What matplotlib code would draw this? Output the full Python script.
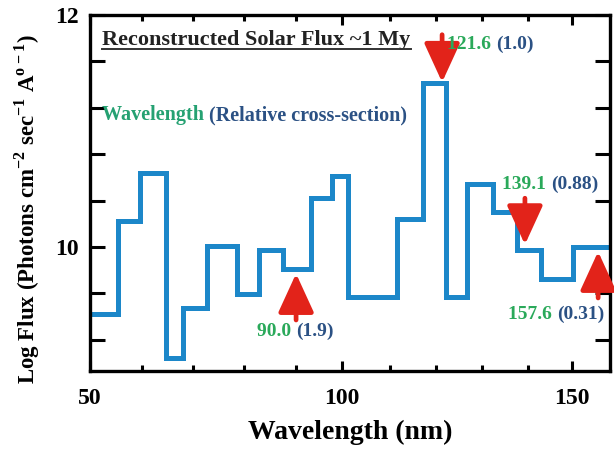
import matplotlib
matplotlib.use("Agg")
import numpy as np
import matplotlib.pyplot as plt
from matplotlib.lines import Line2D

plt.rcParams["font.family"] = ["Liberation Serif", "DejaVu Serif"]
plt.rcParams["font.weight"] = "bold"
plt.rcParams["mathtext.fontset"] = "custom"
plt.rcParams["mathtext.bf"] = "Liberation Serif:bold"
plt.rcParams["mathtext.rm"] = "Liberation Serif:bold"

# step edges (nm) and log flux level of each bin
edges = [50.0, 55.4, 59.6, 64.7, 68.0, 72.7, 78.6, 82.9, 87.5, 93.3, 97.8,
         101.2, 111.5, 117.2, 122.1, 126.8, 132.4, 137.6, 143.0, 150.2, 158.6]
levels = [9.42, 10.22, 10.64, 9.04, 9.47, 10.01, 9.59, 9.97, 9.81, 10.42,
          10.61, 9.57, 10.24, 11.41, 9.57, 10.54, 10.30, 9.97, 9.72, 10.00]

# marked lines: wavelength, relative cross-section
marks_wl = ["121.6", "139.1", "90.0", "157.6"]
marks_cs = ["(1.0)", "(0.88)", "(1.9)", "(0.31)"]
arrow_x = [121.3, 139.3, 90.0, 155.9]
arrow_tail = [11.83, 10.42, 9.37, 9.56]
arrow_tip = [11.42, 10.02, 9.77, 9.96]
label_x = [122.4, 134.3, 82.5, 135.7]
label_y = [11.71, 10.50, 9.23, 9.38]

x_major = [50, 100, 150]
x_minor = [60, 70, 80, 90, 110, 120, 130, 140]
y_major = [10, 12]
y_minor = [9.2, 9.6, 10.4, 10.8, 11.2, 11.6]

# the printed x axis is not evenly spaced: tick value -> relative position
axis_nm = [-1000, 50, 60, 70, 80, 90, 100, 110, 120, 130, 140, 150, 1000]
axis_pos = [-5200, 0, 52, 103, 154, 206, 252, 300, 346, 392, 438, 482, 4222]

def fwd(x):
    return np.interp(x, axis_nm, axis_pos)

def inv(p):
    return np.interp(p, axis_pos, axis_nm)

BLUE = "#1c87c9"
RED = "#e2231a"
GREEN = "#2aa95a"
TEAL = "#25a172"
NAVY = "#2b5184"

fig = plt.figure(figsize=(6.14, 4.49), dpi=100)
ax = fig.add_axes([0.1466, 0.1737, 0.8469, 0.7929])
ax.set_xscale("function", functions=(fwd, inv))

# step outline
xs = []
ys = []
for i, lv in enumerate(levels):
    xs += [edges[i], edges[i + 1]]
    ys += [lv, lv]
ax.plot(xs, ys, color=BLUE, lw=3.6, solid_joinstyle="miter")

ax.set_xlim(50, 158.6)
ax.set_ylim(8.93, 12)

ax.set_xticks(x_major, [str(v) for v in x_major])
ax.set_xticks(x_minor, [], minor=True)
ax.set_yticks(y_major, [str(v) for v in y_major])
ax.set_yticks(y_minor, [], minor=True)
ax.tick_params(axis="both", which="both", direction="in", width=2.2,
               top=True, right=True, labelsize=17)
ax.tick_params(axis="x", which="major", length=7.5, pad=12)
ax.tick_params(axis="x", which="minor", length=4)
ax.tick_params(axis="y", which="both", length=11, pad=8)
for s in ax.spines.values():
    s.set_linewidth(2.4)

ax.set_xlabel("Wavelength (nm)", fontsize=20, fontweight="bold", labelpad=8)
ax.set_ylabel("Log Flux (Photons cm$^{\\mathbf{-2}}$ sec$^{\\mathbf{-1}}$ A$^{\\mathbf{o-1}}$)",
              fontsize=16.5, fontweight="bold")
ax.yaxis.set_label_coords(-0.092, 0.455)

title = ax.text(0.024, 0.916, "Reconstructed Solar Flux ~1 My", transform=ax.transAxes,
                fontsize=16, fontweight="bold", color="#222222", va="baseline")
t1 = ax.text(0.024, 0.705, "Wavelength ", transform=ax.transAxes,
             fontsize=14.5, fontweight="bold", color=TEAL, va="baseline")
fig.canvas.draw()
bb = t1.get_window_extent()
ax.annotate("(Relative cross-section)", xy=(bb.x1, bb.y0), xycoords="figure pixels",
            fontsize=14.5, fontweight="bold", color=NAVY, va="bottom")

# underline for the title
tb = title.get_window_extent()
fig.add_artist(Line2D([tb.x0, tb.x1], [tb.y0 + 1, tb.y0 + 1], transform=None,
                      color="#333333", lw=1.4))

for i in range(len(marks_wl)):
    ax.annotate("", xy=(arrow_x[i], arrow_tip[i]), xytext=(arrow_x[i], arrow_tail[i]),
                arrowprops=dict(arrowstyle="-|>,head_width=0.55,head_length=1.2",
                                color=RED, lw=3.4, mutation_scale=20,
                                shrinkA=0, shrinkB=0))
    t = ax.text(label_x[i], label_y[i], marks_wl[i] + " ", fontsize=14,
                fontweight="bold", color=GREEN, va="baseline")
    fig.canvas.draw()
    b = t.get_window_extent()
    ax.annotate(marks_cs[i], xy=(b.x1, b.y0), xycoords="figure pixels",
                fontsize=14, fontweight="bold", color=NAVY, va="bottom")

fig.savefig("out.png", dpi=100)
